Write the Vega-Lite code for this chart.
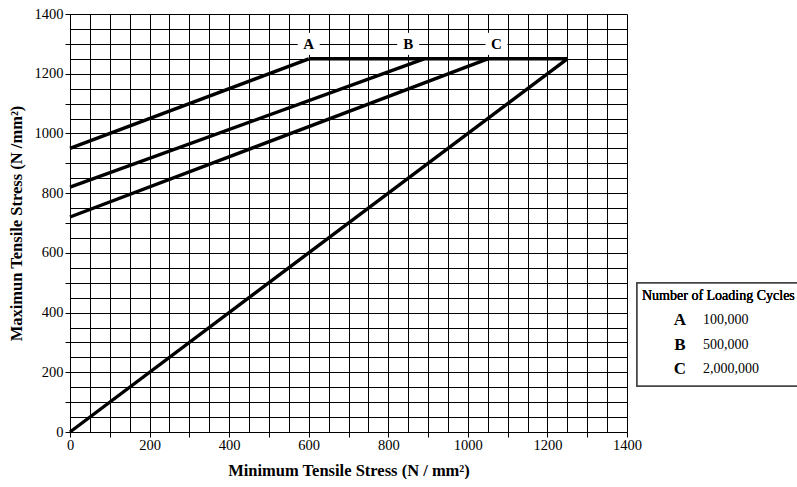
{
  "$schema": "https://vega.github.io/schema/vega-lite/v6.json",
  "padding": {"left": 8, "top": 6, "right": 0, "bottom": 0},
  "background": "white",
  "spacing": 10,
  "bounds": "flush",
  "config": {
    "view": {"stroke": null},
    "font": "Times New Roman, Liberation Serif, serif",
    "axis": {
      "labelFont": "Times New Roman, Liberation Serif, serif",
      "titleFont": "Times New Roman, Liberation Serif, serif",
      "labelColor": "black",
      "titleColor": "black",
      "domainColor": "black",
      "tickColor": "black",
      "gridColor": "black",
      "gridOpacity": 1,
      "gridWidth": 1,
      "labelFontSize": 14.5,
      "titleFontSize": 16.5,
      "titleFontWeight": "bold",
      "labelOverlap": false,
      "labelFlush": false
    }
  },
  "datasets": {
    "lines": [
      {"series": "A", "x": 0, "y": 950},
      {"series": "A", "x": 600, "y": 1250},
      {"series": "B", "x": 0, "y": 820},
      {"series": "B", "x": 890, "y": 1250},
      {"series": "C", "x": 0, "y": 720},
      {"series": "C", "x": 1050, "y": 1250},
      {"series": "D", "x": 0, "y": 0},
      {"series": "D", "x": 1250, "y": 1250},
      {"series": "H", "x": 600, "y": 1250},
      {"series": "H", "x": 1250, "y": 1250}
    ],
    "labels": [
      {"letter": "A", "x": 600, "y": 1300},
      {"letter": "B", "x": 850, "y": 1300},
      {"letter": "C", "x": 1072, "y": 1300}
    ],
    "legend": [
      {"slot": 1, "letter": "A", "cycles": "100,000"},
      {"slot": 2, "letter": "B", "cycles": "500,000"},
      {"slot": 3, "letter": "C", "cycles": "2,000,000"}
    ]
  },
  "hconcat": [
    {
      "width": 557,
      "height": 418,
      "encoding": {
        "x": {
          "field": "x",
          "type": "quantitative",
          "scale": {"domain": [0, 1400], "nice": false, "zero": false},
          "axis": {
            "title": "Minimum Tensile Stress (N / mm²)",
            "values": [0,50,100,150,200,250,300,350,400,450,500,550,600,650,700,750,800,850,900,950,1000,1050,1100,1150,1200,1250,1300,1350,1400],
            "grid": true,
            "format": "d",
            "labelExpr": "datum.value % 200 === 0 ? datum.label : ''",
            "tickSize": 5,
            "tickOpacity": {"condition": {"test": "datum.value % 100 === 0", "value": 1}, "value": 0},
            "labelPadding": 1,
            "titlePadding": 11
          }
        },
        "y": {
          "field": "y",
          "type": "quantitative",
          "scale": {"domain": [0, 1400], "nice": false, "zero": false},
          "axis": {
            "title": "Maximun Tensile Stress (N /mm²)",
            "values": [0,50,100,150,200,250,300,350,400,450,500,550,600,650,700,750,800,850,900,950,1000,1050,1100,1150,1200,1250,1300,1350,1400],
            "grid": true,
            "format": "d",
            "labelExpr": "datum.value % 200 === 0 ? datum.label : ''",
            "tickSize": 5,
            "tickOpacity": {"condition": {"test": "datum.value % 100 === 0", "value": 1}, "value": 0},
            "labelPadding": 2,
            "titlePadding": 10
          }
        }
      },
      "layer": [
        {
          "data": {"name": "lines"},
          "mark": {"type": "line", "color": "black", "strokeWidth": 3.4, "strokeCap": "butt"},
          "encoding": {"detail": {"field": "series"}}
        },
        {
          "data": {"name": "labels"},
          "mark": {"type": "point", "shape": "square", "filled": true, "color": "white", "opacity": 1, "size": 484, "strokeWidth": 0}
        },
        {
          "data": {"name": "labels"},
          "mark": {"type": "text", "font": "Times New Roman, Liberation Serif, serif", "fontWeight": "bold", "fontSize": 15, "color": "black", "baseline": "middle"},
          "encoding": {"text": {"field": "letter"}}
        }
      ]
    },
    {
      "width": 155,
      "height": 418,
      "data": {"name": "legend"},
      "layer": [
        {
          "mark": {"type": "rect", "fill": "white", "stroke": "#444444", "strokeWidth": 1.5},
          "encoding": {
            "x": {"datum": 0, "type": "quantitative", "scale": {"domain": [0, 155], "nice": false, "zero": false}, "axis": null},
            "x2": {"datum": 175},
            "y": {"datum": -0.53, "type": "quantitative", "scale": {"domain": [-11.59, 5.59], "nice": false, "zero": false, "reverse": true}, "axis": null},
            "y2": {"datum": 3.70}
          }
        },
        {
          "mark": {"type": "text", "text": "Number of Loading Cycles", "font": "Times New Roman, Liberation Serif, serif", "fontWeight": "normal", "fontSize": 14, "color": "black", "align": "left", "baseline": "middle"},
          "encoding": {
            "x": {"datum": 5, "type": "quantitative"},
            "y": {"datum": 0, "type": "quantitative"}
          }
        },
        {
          "mark": {"type": "text", "font": "Times New Roman, Liberation Serif, serif", "fontWeight": "bold", "fontSize": 17, "color": "black", "align": "center", "baseline": "middle"},
          "encoding": {
            "x": {"datum": 43, "type": "quantitative"},
            "y": {"field": "slot", "type": "quantitative"},
            "text": {"field": "letter"}
          }
        },
        {
          "mark": {"type": "text", "font": "Times New Roman, Liberation Serif, serif", "fontWeight": "normal", "fontSize": 14, "color": "black", "align": "left", "baseline": "middle"},
          "encoding": {
            "x": {"datum": 66, "type": "quantitative"},
            "y": {"field": "slot", "type": "quantitative"},
            "text": {"field": "cycles"}
          }
        }
      ],
      "resolve": {"scale": {"x": "shared", "y": "shared"}}
    }
  ]
}
